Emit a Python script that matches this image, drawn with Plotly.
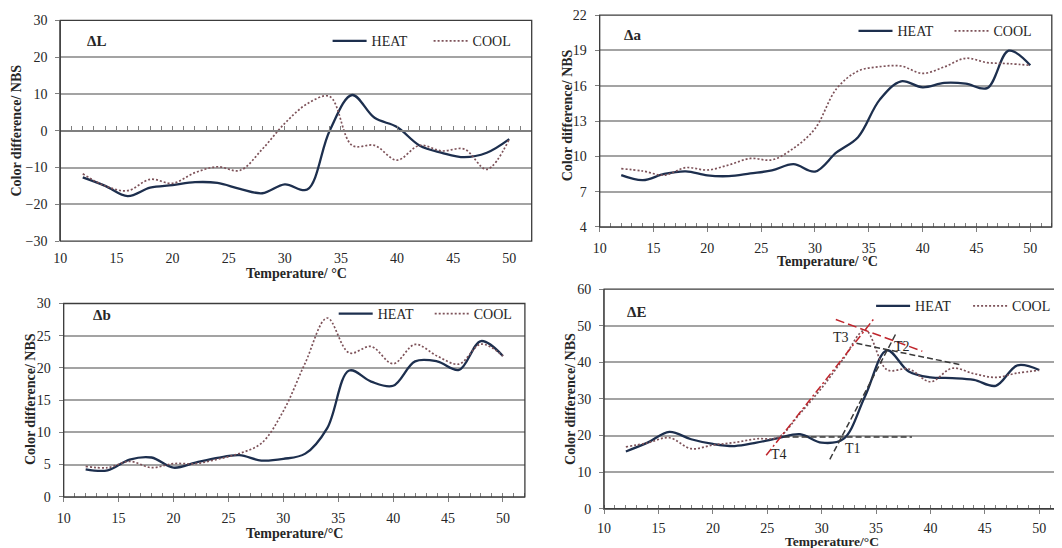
import plotly.graph_objects as go

# ---------------- data ----------------
temps = [12, 14, 16, 18, 20, 22, 24, 26, 28, 30, 32, 34, 36, 38, 40, 42, 44, 46, 48, 50]

dL_heat = [-12.7, -15.0, -17.8, -15.5, -14.8, -14.0, -14.2, -15.8, -17.0, -14.6, -16.0, 0.0, 9.7, 3.5, 1.0, -4.0, -6.0, -7.2, -6.0, -2.3]
dL_cool = [-11.7, -15.0, -16.3, -13.2, -14.3, -11.4, -9.8, -10.8, -5.0, 2.0, 7.3, 9.3, -4.0, -4.0, -8.0, -4.0, -5.5, -5.0, -10.5, -2.3]

da_heat = [8.4, 7.97, 8.5, 8.72, 8.38, 8.32, 8.55, 8.8, 9.33, 8.7, 10.33, 11.63, 14.8, 16.38, 15.87, 16.24, 16.18, 15.8, 18.98, 17.74]
da_cool = [8.95, 8.75, 8.4, 9.04, 8.84, 9.27, 9.82, 9.7, 10.68, 12.35, 15.75, 17.25, 17.62, 17.68, 17.05, 17.6, 18.34, 17.97, 17.88, 17.74]

db_heat = [4.26, 4.1, 5.78, 6.1, 4.52, 5.3, 6.04, 6.46, 5.62, 5.88, 6.7, 10.67, 19.6, 17.87, 17.23, 21.02, 21.02, 19.7, 24.17, 21.86]
db_cool = [4.73, 4.52, 5.5, 4.52, 5.15, 5.15, 5.83, 6.73, 8.3, 13.3, 20.8, 27.75, 22.33, 23.33, 20.65, 23.65, 21.86, 20.6, 23.7, 21.86]

dE_heat = [15.65, 18.05, 21.0, 18.98, 17.7, 17.13, 18.05, 19.26, 20.37, 18.05, 19.07, 30.8, 43.3, 37.5, 35.9, 35.7, 35.2, 33.6, 39.2, 37.9]
dE_cool = [16.9, 18.0, 19.4, 16.4, 17.4, 18.1, 19.1, 19.5, 26.0, 33.0, 41.0, 48.8, 38.0, 38.2, 34.7, 38.4, 36.9, 35.9, 37.1, 37.8]

# tangent construction lines (panel ΔE)
base_x, base_y = [26.5, 38.3], [19.6, 19.6]
heat_rise_x, heat_rise_y = [30.75, 36.85], [13.5, 48.0]
heat_fall_x, heat_fall_y = [33.2, 42.7], [45.2, 39.4]
cool_fall_x, cool_fall_y = [31.3, 39.25], [51.7, 43.05]
cool_rise_x, cool_rise_y = [24.9, 34.9], [14.6, 52.3]
t_labels = ["T3", "T2", "T1", "T4"]
t_label_x = [31.8, 37.4, 32.9, 26.1]
t_label_y = [46.9, 44.4, 16.5, 14.9]

panel_names = ["ΔL", "Δa", "Δb", "ΔE"]
x_titles = ["Temperature/ °C", "Temperature/ °C", "Temperature/°C", "Temperature/°C"]
y_title = "Color difference/ NBS"
y_ranges = [[-30, 30], [4, 22], [0, 30], [0, 60]]
y_dticks = [10, 3, 5, 10]
x_range = [10, 52]

# ---------------- style ----------------
PAGE_OFF = 8          # default body margin of the html page
W, H = 1062 - PAGE_OFF, 548 - PAGE_OFF
FONT = "Liberation Serif"
HEAT_COLOR = "#1d2f4e"
COOL_COLOR = "#7d5259"
GRID = "#a3a3a3"
AXIS = "#7f7f7f"
BORDER = "#3c3c3c"
TXT = "#262626"

def px(x):
    return (x - PAGE_OFF) / W

def py(y):
    return 1 - (y - PAGE_OFF) / H

# plot-area pixel boxes in screen px: (left, right, top, bottom)
boxes = [(60.3, 531.7, 20.3, 241.1),
         (599.7, 1051.8, 15.2, 226.9),
         (63.7, 524.9, 303.5, 496.8),
         (604.1, 1061.0, 289.2, 508.7)]
label_pos = [(84.7, 40.6), (622.4, 34.9), (90.8, 315.3), (624.5, 311.9)]
legend_pos = [(327.6, 41.3), (853.5, 31.2), (333.7, 314.0), (871.1, 306.2)]
legend_ew = [52, 47, 47, 48]
xtitle_pos = [(296.3, 273.0), (827.3, 261.4), (294.6, 533.1), (832.4, 541.0)]
xtitle_size = [14, 14, 14, 13.5]
xtick_standoff = [7, 4, 4, 2]
ytitle_pos = [(16.9, 130.7), (567.2, 115.1), (29.8, 399.3), (570.6, 399.3)]

series = [(dL_heat, dL_cool), (da_heat, da_cool), (db_heat, db_cool), (dE_heat, dE_cool)]

fig = go.Figure()
layout = dict(width=W, height=H, margin=dict(l=0, r=0, t=0, b=0, autoexpand=False),
              paper_bgcolor="white", plot_bgcolor="white",
              font=dict(family=FONT, size=14, color=TXT))
annotations = []
shapes = []

for i in range(4):
    n = i + 1
    sfx = "" if n == 1 else str(n)
    xa, ya = "x" + sfx, "y" + sfx
    leg = "legend" + sfx
    heat, cool = series[i]
    fig.add_trace(go.Scatter(x=temps, y=heat, mode="lines", name="HEAT",
                             line=dict(color=HEAT_COLOR, width=2.3, shape="spline", smoothing=1),
                             xaxis=xa, yaxis=ya, legend=leg))
    fig.add_trace(go.Scatter(x=temps, y=cool, mode="lines", name="COOL",
                             line=dict(color=COOL_COLOR, width=1.7, dash="2px,2px", shape="spline", smoothing=1),
                             xaxis=xa, yaxis=ya, legend=leg))
    l, r, t, b = boxes[i]
    xdom = [px(l), min(px(r), 1.0)]
    ydom = [py(b), py(t)]
    xaxis = dict(domain=xdom, range=x_range, anchor=ya, tick0=10, dtick=5,
                 showgrid=False, zeroline=False, ticklabelstandoff=xtick_standoff[i],
                 tickfont=dict(family=FONT, size=14, color=TXT))
    yaxis = dict(domain=ydom, range=y_ranges[i], anchor=xa, tick0=y_ranges[i][0], dtick=y_dticks[i],
                 showgrid=True, gridcolor=GRID, gridwidth=1.5, zeroline=False,
                 showline=True, linecolor=AXIS, linewidth=1.2,
                 ticks="outside", ticklen=4, tickcolor=AXIS, ticklabelstandoff=5,
                 tickfont=dict(family=FONT, size=14, color=TXT))
    if n == 1:
        xaxis.update(showline=False, ticks="")
        fig.add_trace(go.Scatter(x=[], y=[], xaxis="x5", yaxis="y", showlegend=False))
        zero_pos = ydom[0] + (ydom[1] - ydom[0]) * (0 - y_ranges[0][0]) / (y_ranges[0][1] - y_ranges[0][0])
        layout["xaxis5"] = dict(overlaying="x", anchor="free", position=zero_pos, range=x_range,
                                domain=xdom, showline=True, linecolor=AXIS, linewidth=1.5,
                                ticks="inside", dtick=1, tick0=10, ticklen=4, tickcolor=AXIS,
                                showticklabels=False, showgrid=False, zeroline=False)
    else:
        xaxis.update(showline=True, linecolor=AXIS, linewidth=1.2,
                     ticks="outside", ticklen=4, tickcolor=AXIS,
                     minor=dict(ticks="inside", dtick=1, tick0=10, ticklen=4, tickcolor=AXIS))
    layout["xaxis" + sfx] = xaxis
    layout["yaxis" + sfx] = yaxis
    shapes.append(dict(type="rect", xref=xa + " domain", yref=ya + " domain", x0=0, x1=1, y0=0, y1=1,
                       line=dict(color=BORDER, width=1.3), layer="above"))
    lx, ly = legend_pos[i]
    layout[leg] = dict(x=px(lx), y=py(ly), xanchor="left", yanchor="middle", orientation="h",
                       bgcolor="rgba(0,0,0,0)", entrywidth=legend_ew[i], entrywidthmode="pixels",
                       font=dict(family=FONT, size=14, color=TXT), itemwidth=34,
                       tracegroupgap=0)
    annotations.append(dict(text="<b>" + panel_names[i] + "</b>", x=px(label_pos[i][0]), y=py(label_pos[i][1]),
                            xref="paper", yref="paper", xanchor="left", yanchor="middle", showarrow=False,
                            font=dict(family=FONT, size=15, color=TXT)))
    annotations.append(dict(text="<b>" + x_titles[i] + "</b>", x=px(xtitle_pos[i][0]), y=py(xtitle_pos[i][1]),
                            xref="paper", yref="paper", xanchor="center", yanchor="middle", showarrow=False,
                            font=dict(family=FONT, size=xtitle_size[i], color=TXT)))
    annotations.append(dict(text="<b>" + y_title + "</b>", x=px(ytitle_pos[i][0]), y=py(ytitle_pos[i][1]),
                            xref="paper", yref="paper", xanchor="center", yanchor="middle", showarrow=False,
                            textangle=-90, font=dict(family=FONT, size=14, color=TXT)))

for xs, ys, col, dash in [(base_x, base_y, "#3a3a3a", "6px,3px"),
                          (heat_rise_x, heat_rise_y, "#3a3a3a", "6px,3px"),
                          (heat_fall_x, heat_fall_y, "#3a3a3a", "6px,3px"),
                          (cool_fall_x, cool_fall_y, "#c0262d", "9px,4px"),
                          (cool_rise_x, cool_rise_y, "#c0262d", "8px,3px,2px,3px")]:
    fig.add_trace(go.Scatter(x=xs, y=ys, mode="lines", showlegend=False,
                             line=dict(color=col, width=1.5, dash=dash), xaxis="x4", yaxis="y4"))
for txt, tx, ty in zip(t_labels, t_label_x, t_label_y):
    annotations.append(dict(text=txt, x=tx, y=ty, xref="x4", yref="y4", showarrow=False,
                            xanchor="center", yanchor="middle",
                            font=dict(family=FONT, size=14, color=TXT)))

layout["annotations"] = annotations
layout["shapes"] = shapes
fig.update_layout(**layout)
fig.write_html("out.html")
